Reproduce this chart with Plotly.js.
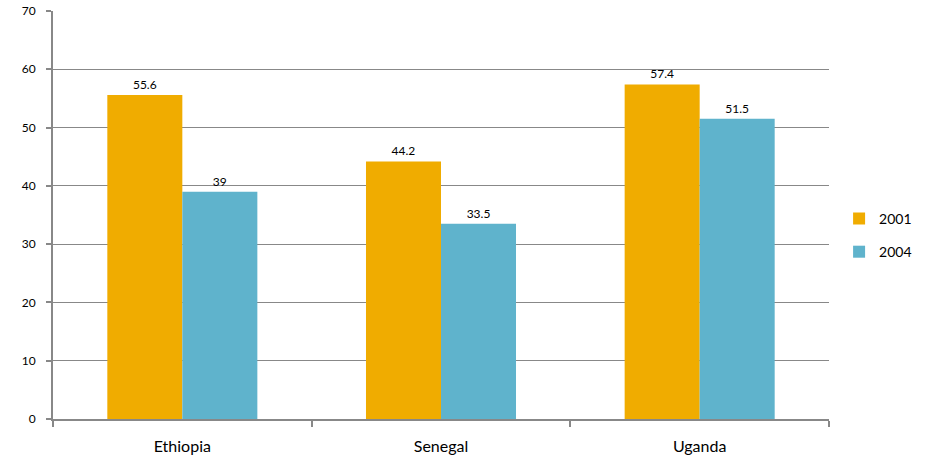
<!DOCTYPE html>
<html><head><meta charset="utf-8">
<script src="https://cdn.plot.ly/plotly-3.0.1.min.js"></script>
<style>body{margin:0;background:#fff}#chart{width:925px;height:460px}</style>
</head><body><div id="chart"></div>
<script>
var categories = ["Ethiopia", "Senegal", "Uganda"];
var values2001 = [55.6, 44.2, 57.4];
var values2004 = [39, 33.5, 51.5];
var labels2001 = ["55.6", "44.2", "57.4"];
var labels2004 = ["39", "33.5", "51.5"];
var yTicks = [0, 10, 20, 30, 40, 50, 60, 70];

var fontFam = "Lato, 'Open Sans', sans-serif";
var traces = [
  {type: "bar", name: "2001", legendgroup: "a", x: categories, y: values2001, text: labels2001,
   textposition: "outside", cliponaxis: false, marker: {color: "#F0AC00"},
   textfont: {size: 12, color: "#000", family: fontFam}},
  {type: "bar", name: "2004", legendgroup: "b", x: categories, y: values2004, text: labels2004,
   textposition: "outside", cliponaxis: false, marker: {color: "#5FB3CC"},
   textfont: {size: 12, color: "#000", family: fontFam}}
];
var layout = {
  width: 925, height: 460,
  margin: {l: 53, r: 96, t: 11, b: 41, autoexpand: false},
  paper_bgcolor: "#fff", plot_bgcolor: "#fff",
  font: {family: fontFam, color: "#000"},
  barmode: "group", bargap: 0.42, bargroupgap: 0,
  showlegend: true,
  legend: {x: 0.012, xref: "paper", y: 0.45, xanchor: "left", yanchor: "middle",
           font: {size: 14}, itemwidth: 30, tracegroupgap: 12, traceorder: "grouped"},
  xaxis: {showline: true, linecolor: "#888", linewidth: 2, ticks: "outside",
          tickson: "boundaries", ticklen: 6, tickcolor: "#888", tickwidth: 2,
          tickfont: {size: 16}, showgrid: false, ticklabelstandoff: 12},
  yaxis: {range: [0, 70], tickvals: yTicks, showline: true, linecolor: "#888",
          linewidth: 2, ticks: "outside", ticklen: 5, tickcolor: "#888", tickwidth: 2,
          gridcolor: "#888", gridwidth: 1, tickfont: {size: 12}, zeroline: false,
          ticklabelstandoff: 8, fixedrange: true}
};
layout.legend.x = 1.013;
Plotly.newPlot("chart", traces, layout, {displayModeBar: false, staticPlot: true});
</script></body></html>
